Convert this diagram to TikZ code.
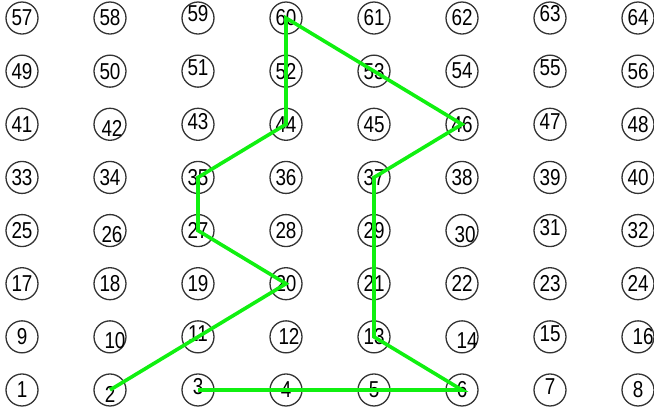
\documentclass[tikz,border=0pt]{standalone}
\usepackage{fontspec}
\newfontfamily\gridfont[FakeStretch=0.82]{Liberation Sans}
\usetikzlibrary{calc}
\definecolor{ringgray}{HTML}{333333}
\definecolor{routegreen}{HTML}{10F010}
\tikzset{
  x=1pt, y=1pt,
  cell/.style={circle, draw=ringgray, line width=1.3pt, fill=white,
               minimum size=32pt, inner sep=0pt},
  num/.style={font=\gridfont\fontsize{23}{24}\selectfont, text=black, inner sep=0pt},
  route/.style={draw=routegreen, line width=3.6pt, line join=miter},
  % labels that sit off centre in their ring
  nudge2/.style={yshift=-4pt},   nudge3/.style={yshift=3pt},
  nudge7/.style={yshift=3pt},    nudge10/.style={xshift=5pt, yshift=-4pt},
  nudge11/.style={yshift=3pt},   nudge12/.style={xshift=3pt},
  nudge14/.style={xshift=5pt, yshift=-4pt},
  nudge15/.style={yshift=3pt},   nudge16/.style={xshift=5pt},
  nudge26/.style={xshift=2pt, yshift=-4pt},
  nudge30/.style={xshift=3pt, yshift=-4pt},
  nudge31/.style={yshift=3pt},   nudge42/.style={xshift=2pt, yshift=-4pt},
  nudge43/.style={yshift=3pt},   nudge47/.style={yshift=3pt},
  nudge51/.style={yshift=3pt},   nudge55/.style={yshift=3pt},
  nudge59/.style={yshift=4pt},   nudge63/.style={yshift=4pt},
}

\begin{document}
\begin{tikzpicture}
\useasboundingbox (0,0) rectangle (654,411);

% --- 8 x 8 grid of numbered rings, 1 at bottom left ---
\foreach \row in {0,...,7} {
  \foreach \col in {0,...,7} {
    \pgfmathtruncatemacro{\n}{8*\row+\col+1}
    \node[cell] (c\n) at ({22+88*\col}, {21+53.14*\row}) {};
    \node[num, nudge\n/.try] (t\n) at (c\n) {\n};
  }
}

% --- green route ---
\draw[route] (c2.center) -- (c20.center) -- (c27.center) -- (c35.center)
  -- (c44.center) -- (c60.center) -- (c46.center) -- (c37.center)
  -- (c13.center) -- (c6.center) -- (c3.center);

\end{tikzpicture}
\end{document}
